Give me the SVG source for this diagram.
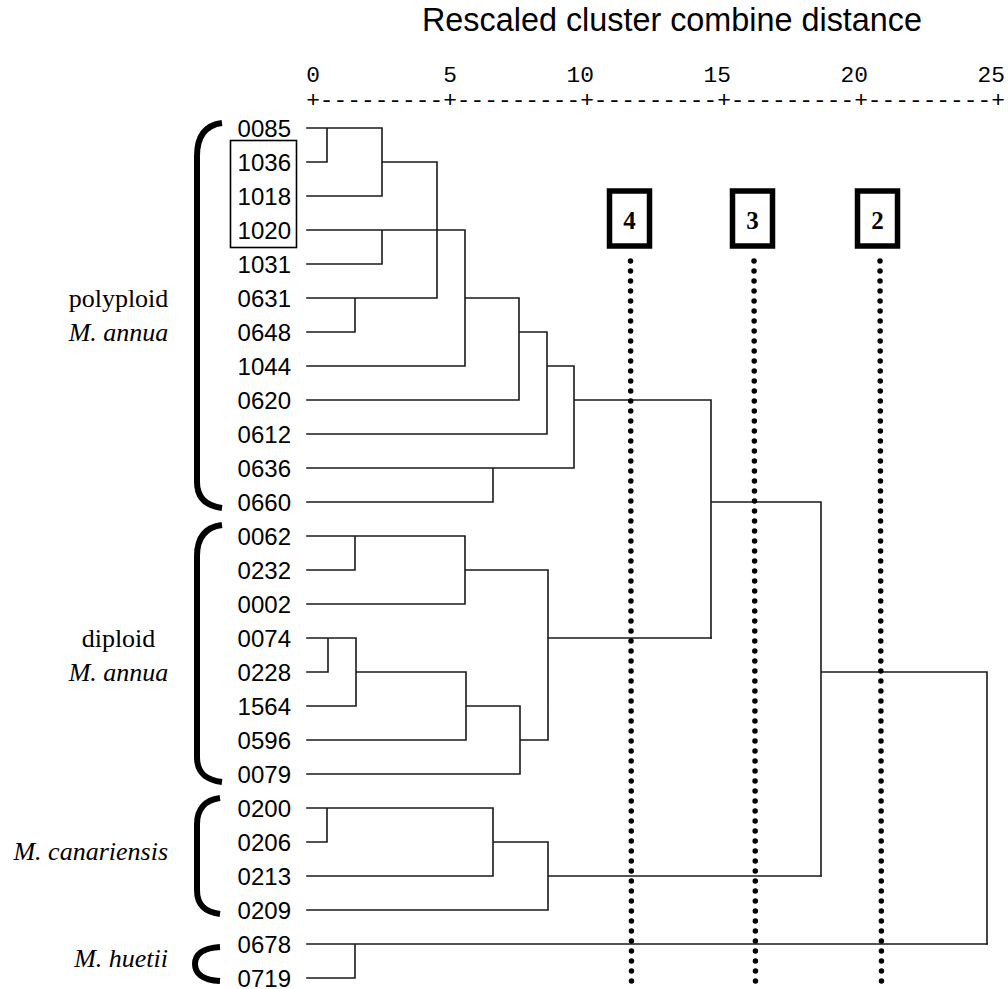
<svg xmlns="http://www.w3.org/2000/svg" width="1008" height="989" viewBox="0 0 1008 989">
<style>
.hdr{font-family:"Liberation Sans",Arial,sans-serif;font-size:34px;fill:#000}
.tick{font-family:"Liberation Mono","Courier New",monospace;font-size:22.83px;fill:#000}
.leaf{font-family:"Liberation Sans",Arial,sans-serif;font-size:24px;fill:#000;text-anchor:end}
.grp{font-family:"Liberation Serif","Times New Roman",serif;font-size:26px;fill:#000}
.it{font-style:italic}
.num{font-family:"Liberation Serif","Times New Roman",serif;font-size:25px;font-weight:bold;fill:#000;text-anchor:middle}
.ln{fill:none;stroke:#1a1a1a;stroke-width:1.6;stroke-linecap:square}
.br{fill:none;stroke:#000;stroke-width:6}
.dot{stroke:#000;stroke-width:5.5;stroke-linecap:round;stroke-dasharray:0 10}
.bx{fill:#fff;stroke:#000;stroke-width:5.5}
</style>
<rect width="1008" height="989" fill="#fff"/>
<g id="axis">
<text class="hdr" x="422" y="31" textLength="500" lengthAdjust="spacingAndGlyphs">Rescaled cluster combine distance</text>
<text class="tick" x="319.85" y="82" text-anchor="end">0</text>
<text class="tick" x="456.85" y="82" text-anchor="end">5</text>
<text class="tick" x="593.85" y="82" text-anchor="end">10</text>
<text class="tick" x="730.85" y="82" text-anchor="end">15</text>
<text class="tick" x="867.85" y="82" text-anchor="end">20</text>
<text class="tick" x="1004.85" y="82" text-anchor="end">25</text>
<text class="tick" x="306.15" y="107" textLength="698.7">+---------+---------+---------+---------+---------+</text>
</g>
<g id="connectors">
<path class="ln" d="M307 128H382M307 162H327M327 128V162M307 196H382M382 128V196M382 162H437M437 162V298M307 230H465M307 264H382M382 230V264M307 298H437M307 332H355M355 298V332M307 366H465M465 230V366M465 298H519M307 400H519M519 298V400M519 332H547M307 434H547M547 332V434M547 366H574M307 468H574M574 366V468M307 502H493M493 468V502M574 400H711M711 400V638M711 502H821M821 502V876M821 672H987M987 672V944"/>
<path class="ln" d="M307 536H465M307 570H355M355 536V570M307 604H465M465 536V604M465 570H548M307 638H356M307 672H328M328 638V672M307 706H356M356 638V706M356 672H466M307 740H466M466 672V740M466 706H520M307 774H520M520 706V774M520 740H548M548 570V740M548 638H711"/>
<path class="ln" d="M307 808H493M307 842H327M327 808V842M307 876H493M493 808V876M493 842H548M307 910H548M548 842V910M548 876H821"/>
<path class="ln" d="M307 944H987M307 978H355M355 944V978"/>
</g>
<g id="cut-lines">
<line class="dot" x1="630.5" y1="261" x2="631.5" y2="989"/>
<line class="dot" x1="754" y1="261" x2="755.5" y2="989"/>
<line class="dot" x1="880" y1="261" x2="881.5" y2="989"/>
</g>
<g id="box-4"><rect class="bx" x="609.5" y="191" width="40" height="55"/><text class="num" x="629.5" y="228.5">4</text></g>
<g id="box-3"><rect class="bx" x="732.5" y="191" width="40" height="55"/><text class="num" x="752.5" y="228.5">3</text></g>
<g id="box-2"><rect class="bx" x="857.5" y="191" width="40" height="55"/><text class="num" x="877.5" y="228.5">2</text></g>
<g id="highlight"><rect x="230.5" y="140.5" width="66" height="107" fill="none" stroke="#000" stroke-width="1.6"/></g>
<g id="leaves">
<text class="leaf" x="291" y="136.5">0085</text>
<text class="leaf" x="291" y="170.5">1036</text>
<text class="leaf" x="291" y="204.5">1018</text>
<text class="leaf" x="291" y="238.5">1020</text>
<text class="leaf" x="291" y="272.5">1031</text>
<text class="leaf" x="291" y="306.5">0631</text>
<text class="leaf" x="291" y="340.5">0648</text>
<text class="leaf" x="291" y="374.5">1044</text>
<text class="leaf" x="291" y="408.5">0620</text>
<text class="leaf" x="291" y="442.5">0612</text>
<text class="leaf" x="291" y="476.5">0636</text>
<text class="leaf" x="291" y="510.5">0660</text>
<text class="leaf" x="291" y="544.5">0062</text>
<text class="leaf" x="291" y="578.5">0232</text>
<text class="leaf" x="291" y="612.5">0002</text>
<text class="leaf" x="291" y="646.5">0074</text>
<text class="leaf" x="291" y="680.5">0228</text>
<text class="leaf" x="291" y="714.5">1564</text>
<text class="leaf" x="291" y="748.5">0596</text>
<text class="leaf" x="291" y="782.5">0079</text>
<text class="leaf" x="291" y="816.5">0200</text>
<text class="leaf" x="291" y="850.5">0206</text>
<text class="leaf" x="291" y="884.5">0213</text>
<text class="leaf" x="291" y="918.5">0209</text>
<text class="leaf" x="291" y="952.5">0678</text>
<text class="leaf" x="291" y="986.5">0719</text>
</g>
<g id="group-polyploid">
<path class="br" d="M222 123C207 125 197 134 197 156V482C197 499 207 506 222 508"/>
<text class="grp" x="118.5" y="307" text-anchor="middle">polyploid</text>
<text class="grp it" x="118.5" y="341" text-anchor="middle">M. annua</text>
</g>
<g id="group-diploid">
<path class="br" d="M222 525C207 527 197 536 197 556V757C197 774 207 780 222 782"/>
<text class="grp" x="118.5" y="647" text-anchor="middle">diploid</text>
<text class="grp it" x="118.5" y="681" text-anchor="middle">M. annua</text>
</g>
<g id="group-canariensis">
<path class="br" d="M220 798C205 800 197 809 197 824V890C197 905 205 912 220 914"/>
<text class="grp it" x="168" y="860" text-anchor="end">M. canariensis</text>
</g>
<g id="group-huetii">
<path class="br" d="M220 947C202 948 195 955 195 964C195 973 202 980 220 981"/>
<text class="grp it" x="168" y="967" text-anchor="end">M. huetii</text>
</g>
</svg>
